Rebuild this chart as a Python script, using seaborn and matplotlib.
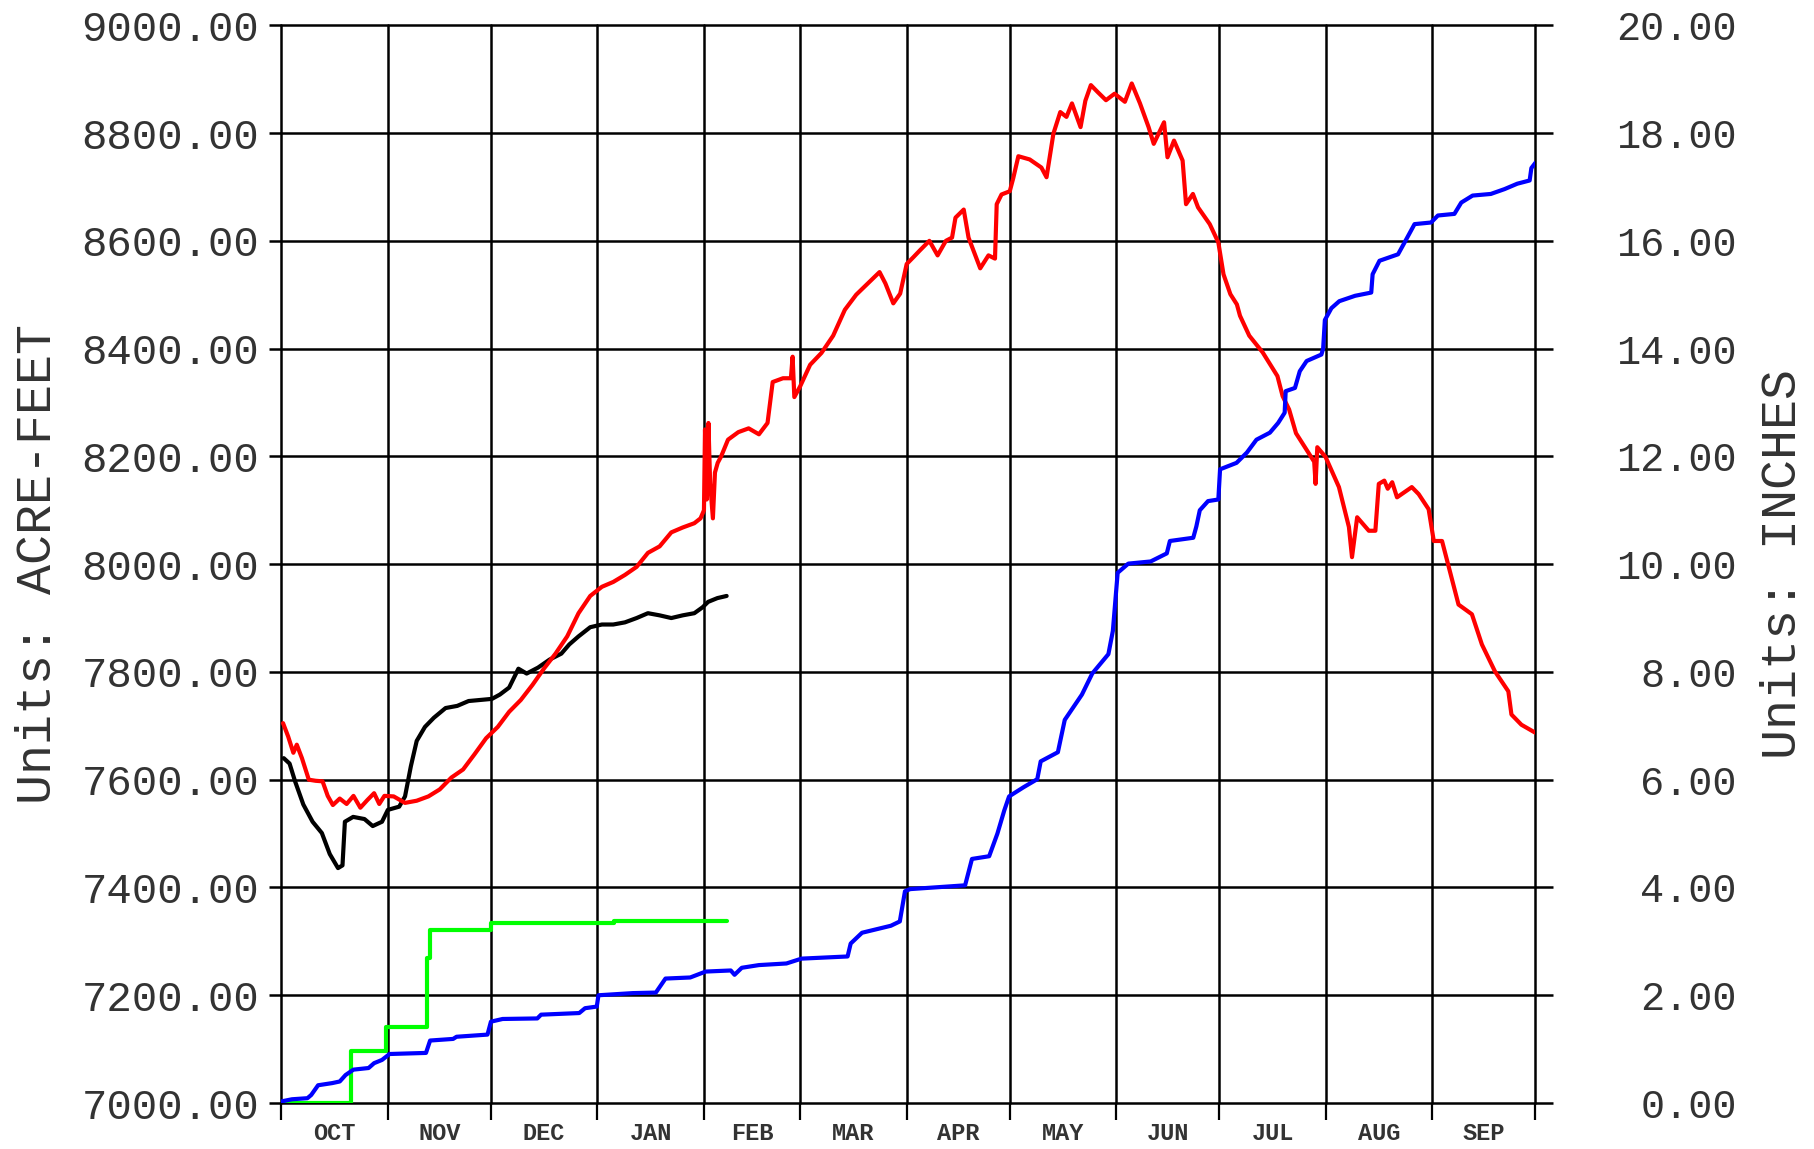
import numpy as np
import matplotlib
matplotlib.use("Agg")
import matplotlib.pyplot as plt
import seaborn as sns

# water-year months and their lengths (days)
months = ["OCT", "NOV", "DEC", "JAN", "FEB", "MAR", "APR", "MAY", "JUN", "JUL", "AUG", "SEP"]
month_days = [31, 30, 31, 31, 28, 31, 30, 31, 30, 31, 31, 30]

# red: storage (acre-feet), by day of water year
red_day = [0.5, 2, 3.5, 4.5, 6, 8, 10, 12, 13.5, 15, 17, 19, 21, 23, 25, 27, 28.5, 30,
           32.7, 36, 39.4, 42.8, 46.1, 49.5, 52.9, 56.2, 59.6, 63, 66.3, 69.7, 73.1,
           76.4, 79.8, 83.2, 86.5, 89.9, 93.3, 96.6, 100, 103.4, 106.7, 110.1, 113.5,
           116.8, 120.2, 122, 123, 123.3, 123.8, 124.3, 124.8, 125.6, 126.2, 127, 128,
           130, 133, 136, 139, 141.5, 143, 146, 148.3, 148.8, 149.3, 151, 153.9, 157.2,
           160.6, 164, 167.3, 170.7, 174.1, 175.8, 178.1, 180.1, 182, 184, 185.8, 188.6,
           191, 193.4, 195.2, 196.2, 198.6, 200, 203.4, 205.8, 207.7, 208.2, 209.6, 212,
           213, 214.5, 217.8, 221.2, 222.7, 224.7, 226.7, 228.5, 230.1, 232.6, 234,
           235.6, 237.6, 240, 242.5, 245.5, 247.5, 249.9, 252.4, 253.9, 256.9, 257.9,
           259.8, 262.3, 263.3, 265.3, 266.8, 270.2, 272.7, 274.2, 276.2, 278.1, 279,
           281.7, 285.6, 289.9, 291.4, 293.3, 295.3, 299.1, 300.6, 301, 301.5, 303.9,
           307.8, 310.7, 311.6, 313.1, 316.5, 318.4, 319.4, 321, 322, 323.3, 324.7, 329,
           331, 333.9, 335.4, 337.8, 342.6, 346.5, 349.4, 353.2, 357.1, 358, 360.9, 365]
red_val = [7705, 7680, 7650, 7665, 7640, 7600, 7598, 7597, 7570, 7553, 7565, 7555, 7570,
           7548, 7562, 7575, 7555, 7570, 7569, 7557, 7561, 7569, 7582, 7604, 7619, 7647,
           7677, 7698, 7726, 7748, 7776, 7806, 7834, 7866, 7909, 7941, 7958, 7967, 7980,
           7995, 8021, 8033, 8059, 8068, 8076, 8085, 8100, 8250, 8120, 8262, 8150, 8085,
           8170, 8188, 8200, 8231, 8245, 8252, 8241, 8262, 8338, 8345, 8345, 8385, 8310,
           8330, 8370, 8392, 8424, 8472, 8500, 8521, 8542, 8521, 8484, 8502, 8557, 8570,
           8582, 8600, 8573, 8600, 8606, 8643, 8658, 8606, 8549, 8573, 8567, 8668, 8686,
           8692, 8716, 8757, 8751, 8736, 8718, 8799, 8839, 8830, 8855, 8811, 8860, 8889,
           8876, 8861, 8873, 8858, 8892, 8855, 8811, 8780, 8820, 8755, 8786, 8749, 8668,
           8687, 8662, 8631, 8597, 8538, 8501, 8482, 8461, 8424, 8393, 8349, 8312, 8287,
           8243, 8205, 8190, 8149, 8217, 8199, 8143, 8069, 8013, 8087, 8062, 8062, 8149,
           8155, 8140, 8152, 8124, 8143, 8130, 8102, 8043, 8043, 7925, 7907, 7851, 7801,
           7764, 7721, 7702, 7687]

# black: current storage (acre-feet)
black_day = [0.7, 2.4, 4, 6.4, 9.1, 11.8, 14.1, 16.5, 17.8, 18.5, 20.9, 24.2, 26.6,
             29.3, 31, 34.3, 36, 37.7, 39.4, 41.8, 44.4, 47.8, 51.2, 54.5, 57.9, 61.3,
             63.6, 66.3, 69, 71.4, 74.7, 78.1, 81.5, 83.8, 86.5, 89.9, 93.3, 96.6, 100,
             103.4, 106.7, 110.1, 113.5, 116.8, 120.2, 122.6, 124.2, 126.9, 129.6]
black_val = [7640, 7630, 7597, 7554, 7522, 7501, 7462, 7436, 7441, 7522, 7531, 7527,
             7514, 7522, 7544, 7550, 7569, 7625, 7672, 7698, 7715, 7733, 7737, 7746,
             7748, 7750, 7758, 7771, 7806, 7797, 7808, 7823, 7834, 7851, 7866, 7883,
             7888, 7888, 7892, 7900, 7909, 7905, 7900, 7905, 7909, 7920, 7930, 7937, 7941]

# green: precipitation this year (inches), step changes
green_day = [0, 20.4, 30.4, 42.4, 43.3, 60.9, 96.8, 129.6]
green_val = [0.0, 0.97, 1.42, 2.7, 3.21, 3.35, 3.38, 3.38]

# blue: average precipitation (inches)
blue_day = [0, 3.1, 7.6, 8.7, 10.7, 14.8, 17, 18.7, 21, 25.4, 27, 29.3, 31.5, 42.1,
            43.3, 50, 51, 60, 61, 64.4, 74.5, 75.6, 86.7, 88.4, 91.8, 92.3, 102.3, 109,
            111.8, 119, 123.5, 130.8, 131.9, 134, 139, 147, 151.4, 164.8, 165.7, 169,
            177.4, 180, 181.5, 183, 199, 201, 206, 208.4, 210.4, 211.8, 216, 220, 221,
            226, 228, 233, 236, 240.7, 242, 243.4, 246.5, 253, 257.7, 258.6, 265.4,
            266.3, 267.3, 269.7, 272.7, 273.2, 278, 281, 283.8, 287.7, 290.1, 292, 292.3,
            295, 296.4, 298.4, 302.7, 303.2, 303.7, 305.6, 307.9, 312.5, 317.2, 317.6,
            319.6, 325, 326.9, 329.8, 334.6, 336.6, 341.4, 343.4, 346.7, 352, 356, 359.7,
            363.3, 363.8, 365]
blue_val = [0.03, 0.07, 0.09, 0.15, 0.33, 0.37, 0.40, 0.52, 0.62, 0.65, 0.74, 0.80,
            0.91, 0.93, 1.16, 1.19, 1.23, 1.27, 1.51, 1.56, 1.57, 1.64, 1.67, 1.76, 1.79,
            2.0, 2.04, 2.05, 2.31, 2.33, 2.44, 2.46, 2.38, 2.51, 2.56, 2.59, 2.68, 2.72,
            2.96, 3.16, 3.29, 3.37, 3.93, 3.97, 4.04, 4.53, 4.58, 5.0, 5.43, 5.69, 5.86,
            6.01, 6.34, 6.51, 7.11, 7.58, 7.97, 8.33, 8.76, 9.84, 10.01, 10.05, 10.2,
            10.43, 10.49, 10.7, 11.0, 11.17, 11.2, 11.76, 11.88, 12.07, 12.31, 12.44,
            12.62, 12.81, 13.21, 13.27, 13.58, 13.77, 13.89, 14.0, 14.53, 14.75, 14.88,
            14.98, 15.04, 15.38, 15.63, 15.75, 15.97, 16.31, 16.34, 16.47, 16.50, 16.71,
            16.84, 16.87, 16.96, 17.06, 17.12, 17.35, 17.45]

sns.set_style("white")
plt.rcParams["font.family"] = ["Liberation Mono", "DejaVu Sans Mono"]

fig = plt.figure(figsize=(18.15, 11.49), dpi=100)
ax = fig.add_axes([0.155, 0.040, 0.691, 0.938])
ax2 = ax.twinx()

lw = 3.0
sns.lineplot(x=black_day, y=black_val, ax=ax, color="black", lw=lw,
             estimator=None, sort=False, zorder=3)
sns.lineplot(x=red_day, y=red_val, ax=ax, color="#ff0000", lw=lw,
             estimator=None, sort=False, zorder=4)
sns.lineplot(x=green_day, y=green_val, ax=ax2, color="#00ff00", lw=lw,
             estimator=None, sort=False, drawstyle="steps-post", zorder=3)
sns.lineplot(x=blue_day, y=blue_val, ax=ax2, color="#0000ff", lw=lw,
             estimator=None, sort=False, zorder=3)

bounds = np.concatenate([[0], np.cumsum(month_days)])
centers = (bounds[:-1] + bounds[1:]) / 2

ax.set_xlim(0, 365)
ax.set_ylim(7000, 9000)
ax2.set_ylim(0, 20)

ax.set_xticks(bounds)
ax.set_xticklabels([])
ax.set_xticks(centers, minor=True)
ax.set_xticklabels(months, minor=True, fontsize=17, fontweight="bold", color="#333333")
ax.tick_params(axis="x", which="minor", length=0, pad=14)
ax.tick_params(axis="x", which="major", direction="out", length=12, width=1.6,
               color="black", bottom=True)

ax.set_yticks(np.arange(7000, 9001, 200))
ax.yaxis.set_major_formatter(matplotlib.ticker.FormatStrFormatter("%.2f"))
ax.tick_params(axis="y", direction="out", length=9, width=1.8, color="black",
               left=True, labelsize=30.5, labelcolor="#333333", pad=7)

ax2.set_yticks(np.arange(0, 21, 2))
ax2.yaxis.set_major_formatter(matplotlib.ticker.FormatStrFormatter("%.2f"))
ax2.tick_params(axis="y", direction="out", length=13, width=1.8, color="black",
                right=True, labelsize=29, labelcolor="#333333", pad=132)
for t in ax2.get_yticklabels():
    t.set_horizontalalignment("right")

ax.grid(True, which="major", color="black", linewidth=1.8)
for gl in ax.get_xgridlines() + ax.get_ygridlines():
    gl.set_clip_on(False)
for a in (ax, ax2):
    for s in a.spines.values():
        s.set_visible(False)
ax2.grid(False)
ax.set_zorder(1)
ax2.set_zorder(2)
ax2.patch.set_visible(False)

ax.set_ylabel("Units: ACRE-FEET", fontsize=36, color="#333333")
ax.yaxis.set_label_coords(-0.176, 0.5)
ax2.set_ylabel("Units: INCHES", fontsize=36, color="#333333")
ax2.yaxis.set_label_coords(1.179, 0.5)
ax.set_xlabel("")

fig.savefig("out.png", dpi=100)
